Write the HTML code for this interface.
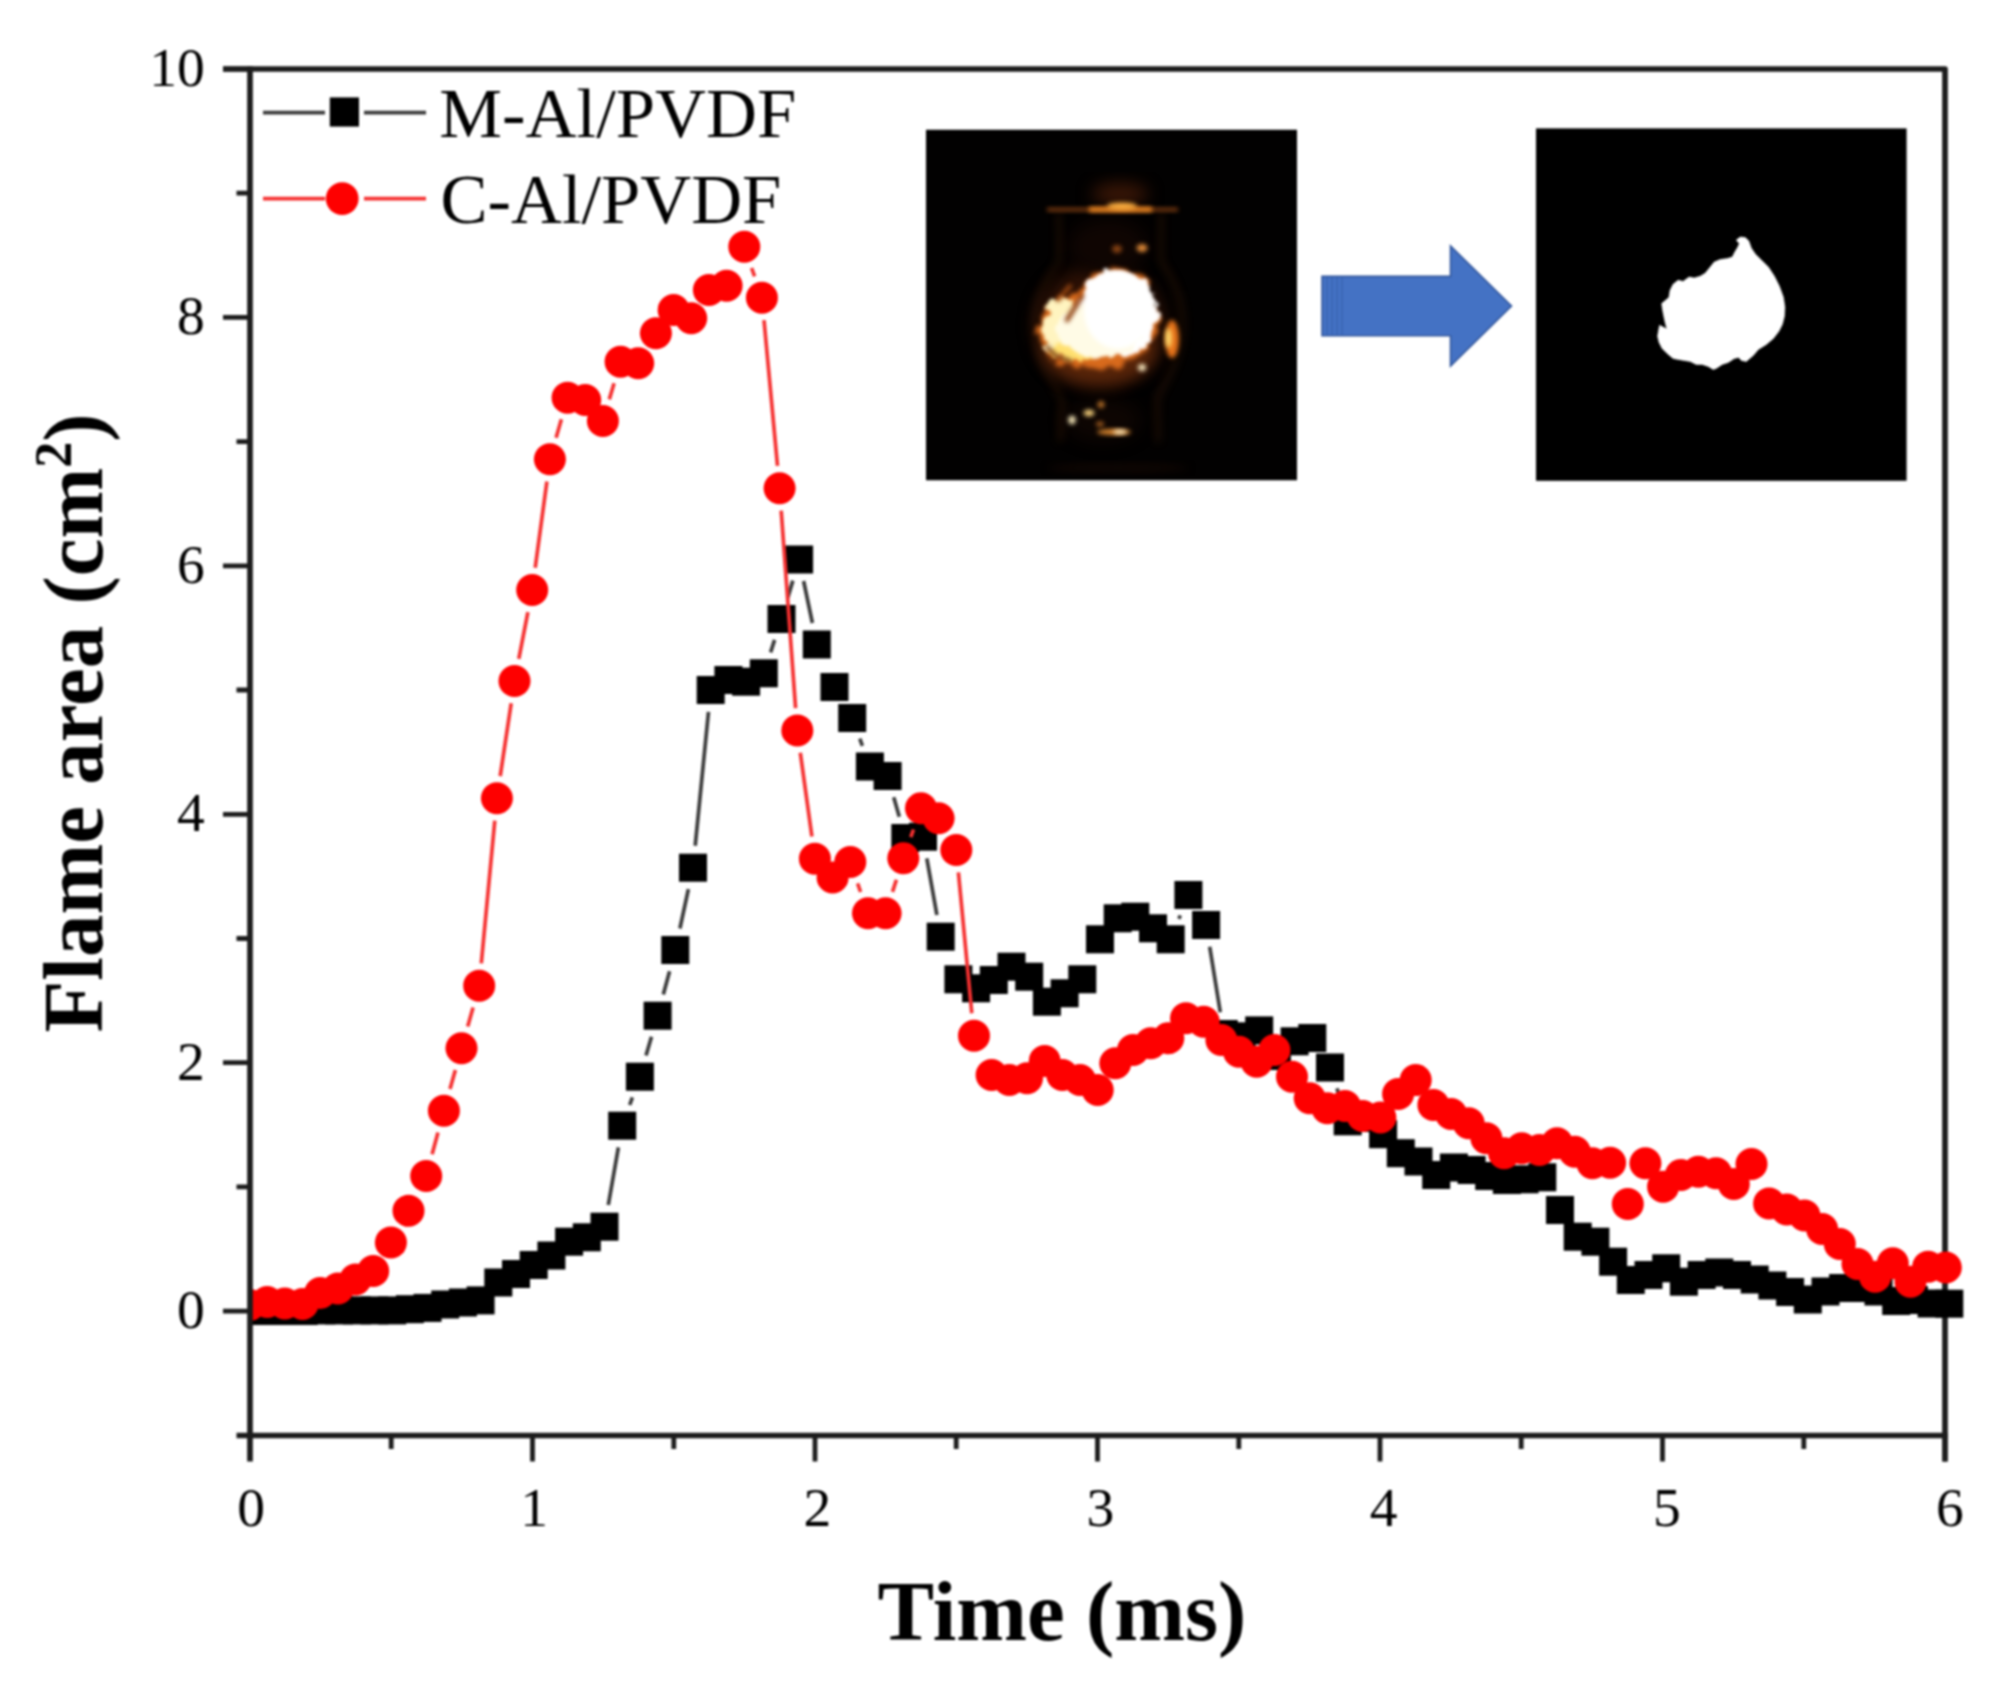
<!DOCTYPE html>
<html lang="en"><head><meta charset="utf-8"><title>Flame area vs time</title>
<style>html,body{margin:0;padding:0;background:#fff}svg{display:block}text{font-family:"Liberation Serif","Times New Roman",serif;fill:#000}</style></head><body>
<svg width="2007" height="1695" viewBox="0 0 2007 1695">
<defs>
<filter id="b2" color-interpolation-filters="sRGB" x="-50%" y="-50%" width="200%" height="200%"><feGaussianBlur stdDeviation="2"/></filter>
<filter id="b4" color-interpolation-filters="sRGB" x="-50%" y="-50%" width="200%" height="200%"><feGaussianBlur stdDeviation="4"/></filter>
<filter id="b8" color-interpolation-filters="sRGB" x="-50%" y="-50%" width="200%" height="200%"><feGaussianBlur stdDeviation="8"/></filter>
<filter id="b14" color-interpolation-filters="sRGB" x="-50%" y="-50%" width="200%" height="200%"><feGaussianBlur stdDeviation="14"/></filter>
<filter id="rag" color-interpolation-filters="sRGB" x="-30%" y="-30%" width="160%" height="160%"><feTurbulence type="fractalNoise" baseFrequency="0.07" numOctaves="2" seed="4" result="n"/><feDisplacementMap in="SourceGraphic" in2="n" scale="22" xChannelSelector="R" yChannelSelector="G"/><feGaussianBlur stdDeviation="2.2"/></filter>
<filter id="rag2" color-interpolation-filters="sRGB" x="-30%" y="-30%" width="160%" height="160%"><feTurbulence type="fractalNoise" baseFrequency="0.09" numOctaves="2" seed="9" result="n"/><feDisplacementMap in="SourceGraphic" in2="n" scale="14" xChannelSelector="R" yChannelSelector="G"/><feGaussianBlur stdDeviation="1.6"/></filter>
<filter id="soft" color-interpolation-filters="sRGB" x="-5%" y="-5%" width="110%" height="110%"><feGaussianBlur stdDeviation="0.9"/></filter>
<radialGradient id="core" cx="0.56" cy="0.44" r="0.62"><stop offset="0" stop-color="#ffffff"/><stop offset="0.55" stop-color="#fffdf0"/><stop offset="0.78" stop-color="#ffe9a0"/><stop offset="0.92" stop-color="#f6a23a"/><stop offset="1" stop-color="#a04a12"/></radialGradient>
<clipPath id="dclip"><rect x="250" y="0" width="1757" height="1695"/></clipPath>
<clipPath id="im1"><rect x="926" y="129.5" width="371" height="351"/></clipPath>
</defs>
<rect width="2007" height="1695" fill="#fff"/>
<g filter="url(#soft)">
<g stroke="#1c1c1c" stroke-width="5.7" stroke-linecap="butt" fill="none">
<path stroke-linejoin="round" d="M223.0 69.0H1945.0V1461.5"/>
</g>
<g clip-path="url(#im1)">
<rect x="926" y="129.5" width="371" height="351" fill="#020101"/>
<ellipse cx="1100" cy="326" rx="66" ry="62" fill="#2b1005" filter="url(#b8)"/>
<ellipse cx="1108" cy="247" rx="40" ry="28" fill="#0f0502" filter="url(#b8)"/>
<ellipse cx="1103" cy="420" rx="38" ry="22" fill="#0d0502" filter="url(#b8)"/>
<ellipse cx="1118" cy="468" rx="70" ry="4" fill="#120703" filter="url(#b4)"/>
<path d="M1059 213V262C1040 285 1030 310 1036 340C1042 372 1058 388 1062 400L1060 442M1161 213V262C1178 285 1186 310 1181 340C1175 372 1160 388 1157 400L1158 442" stroke="#3a1a08" stroke-width="3.5" fill="none" filter="url(#b4)" opacity="0.75"/>
<path d="M1064 443H1156" stroke="#2a1206" stroke-width="3" fill="none" filter="url(#b4)" opacity="0.7"/>
<ellipse cx="1120" cy="194" rx="28" ry="11" fill="#3a1606" filter="url(#b8)"/>
<rect x="1047" y="207.6" width="131" height="4" fill="#7a3a10" filter="url(#b2)"/>
<rect x="1089" y="207" width="63" height="5" fill="#f08a22" filter="url(#b2)"/>
<ellipse cx="1122" cy="206" rx="15" ry="3.5" fill="#ffb040" filter="url(#b2)"/>
<ellipse cx="1099" cy="350" rx="56" ry="34" fill="#5a260a" filter="url(#b8)"/>
<g filter="url(#rag)">
<ellipse cx="1099" cy="327" rx="60" ry="41" fill="#d86a1c" transform="rotate(-10 1099 327)"/>
<ellipse cx="1116" cy="300" rx="38" ry="30" fill="#d86a1c"/>
</g>
<g filter="url(#rag2)">
<ellipse cx="1063" cy="328" rx="21" ry="30" fill="#fff4c0"/>
<ellipse cx="1076" cy="350" rx="26" ry="10" fill="#ffe070"/>
<ellipse cx="1117" cy="313" rx="40" ry="44" fill="#ffffff"/>
<ellipse cx="1100" cy="330" rx="42" ry="28" fill="#fffbe6"/>
</g>
<ellipse cx="1118" cy="311" rx="34" ry="38" fill="#ffffff" filter="url(#b2)"/>
<path d="M1067 320 L1082 296" stroke="#8a3a0a" stroke-width="4.5" stroke-linecap="round" filter="url(#b2)"/>
<path d="M1058 300 L1070 286" stroke="#a04a10" stroke-width="4" stroke-linecap="round" filter="url(#b2)"/>
<path d="M1046 346 L1056 356 L1072 362" stroke="#6a2a08" stroke-width="3.5" fill="none" filter="url(#b2)"/>
<ellipse cx="1172" cy="339" rx="7" ry="19" fill="#e8741a" filter="url(#b2)"/>
<ellipse cx="1168.5" cy="338" rx="3" ry="10" fill="#ffe070" filter="url(#b2)"/>
<ellipse cx="1142" cy="248" rx="5.5" ry="4" fill="#e08a38" filter="url(#b2)"/>
<ellipse cx="1117" cy="249" rx="5" ry="4" fill="#8a4414" filter="url(#b2)"/>
<ellipse cx="1142" cy="367.5" rx="4" ry="3.5" fill="#fff2c8" filter="url(#b2)"/>
<ellipse cx="1072" cy="420" rx="3.6" ry="4.2" fill="#fff0c0" filter="url(#b2)"/>
<ellipse cx="1089" cy="413" rx="5.5" ry="3.2" fill="#ffd880" filter="url(#b2)"/>
<ellipse cx="1101" cy="404.5" rx="3.5" ry="3.5" fill="#b87028" filter="url(#b2)"/>
<ellipse cx="1114" cy="432" rx="17" ry="3" fill="#e08a30" filter="url(#b2)"/>
<ellipse cx="1120" cy="432" rx="7" ry="2.2" fill="#fff0c8" filter="url(#b2)"/>
<ellipse cx="1100" cy="424" rx="4" ry="2.6" fill="#a86020" filter="url(#b2)"/>
</g>
<path d="M1322 276.4H1450.5V246L1511.5 306L1450.5 366V335.8H1322Z" fill="#4472c4" stroke="#33579c" stroke-width="1.6" stroke-linejoin="miter"/>
<path d="M1327 276.4V335.8M1332 276.4V335.8M1337 276.4V335.8M1342 276.4V335.8" stroke="#3560ad" stroke-width="1.1" fill="none"/>
<rect x="1536" y="128.4" width="370.6" height="352.4" fill="#000"/>
<path d="M1736.3 240.1L1740.3 237.1L1745.3 237.6L1748.8 241.1L1751.3 248.1L1755.3 254.1L1761.4 260.1L1768.4 267.1L1774.4 276.2L1779.4 286.2L1783.4 297.2L1784.9 307.3L1784.4 316.3L1782.4 324.3L1778.9 331.3L1773.4 338.4L1766.4 344.4L1758.4 349.4L1753.3 355.4L1746.3 361.4L1741.3 360.4L1738.8 357.4L1734.3 358.4L1728.3 362.4L1722.2 364.4L1716.2 368.4L1713.2 369.4L1708.2 366.4L1702.2 364.4L1696.2 364.4L1690.2 361.4L1684.1 360.4L1678.1 359.4L1673.1 358.4L1667.1 353.4L1662.1 348.4L1659.1 342.4L1657.6 336.3L1658.6 330.3L1659.6 325.3L1666.9 329.1L1665.1 322.3L1663.6 315.3L1662.3 308.3L1661.7 303.5L1668.9 297.4L1670.1 290.2L1673.1 284.2L1678.1 280.2L1683.1 281.4L1686.1 279.2L1689.1 277.0L1694.2 278.0L1700.2 276.2L1705.2 273.2L1710.2 267.1L1714.2 262.1L1720.2 259.6L1727.3 258.6L1732.3 257.1L1734.8 252.1L1737.8 247.1L1739.3 243.6Z" fill="#fff" stroke="#fff" stroke-width="0.6" stroke-linejoin="round"/>
<g clip-path="url(#dclip)">
<path d="M608.3 1205.0L618.4 1147.4M629.7 1105.0L632.4 1097.4M646.0 1055.6L651.5 1036.8M663.3 994.5L669.6 971.2M679.9 928.5L688.4 889.2M695.2 845.8L708.5 711.9M770.6 652.4L774.6 639.9M787.7 597.9L792.9 580.6M803.6 581.0L812.4 623.0M859.8 738.7L862.4 745.8M893.7 797.2L899.3 816.8M926.8 858.4L936.9 915.0M1178.9 918.9L1180.3 915.4M1209.7 946.7L1220.3 1012.3M1336.9 1088.4L1340.8 1100.4" stroke="#3a3a3a" stroke-width="3.70" fill="none"/>
<g fill="#000000">
<rect x="236.6" y="1297.0" width="28.0" height="28.0"/>
<rect x="254.3" y="1297.0" width="28.0" height="28.0"/>
<rect x="272.0" y="1297.0" width="28.0" height="28.0"/>
<rect x="289.7" y="1297.0" width="28.0" height="28.0"/>
<rect x="307.4" y="1296.4" width="28.0" height="28.0"/>
<rect x="325.1" y="1296.4" width="28.0" height="28.0"/>
<rect x="342.8" y="1296.4" width="28.0" height="28.0"/>
<rect x="360.5" y="1296.4" width="28.0" height="28.0"/>
<rect x="378.2" y="1296.4" width="28.0" height="28.0"/>
<rect x="395.9" y="1295.2" width="28.0" height="28.0"/>
<rect x="413.5" y="1293.9" width="28.0" height="28.0"/>
<rect x="431.2" y="1290.5" width="28.0" height="28.0"/>
<rect x="448.9" y="1288.5" width="28.0" height="28.0"/>
<rect x="466.6" y="1286.4" width="28.0" height="28.0"/>
<rect x="484.3" y="1268.5" width="28.0" height="28.0"/>
<rect x="502.0" y="1260.0" width="28.0" height="28.0"/>
<rect x="519.7" y="1251.0" width="28.0" height="28.0"/>
<rect x="537.4" y="1241.5" width="28.0" height="28.0"/>
<rect x="555.1" y="1227.7" width="28.0" height="28.0"/>
<rect x="572.8" y="1223.3" width="28.0" height="28.0"/>
<rect x="590.5" y="1212.7" width="28.0" height="28.0"/>
<rect x="608.2" y="1111.7" width="28.0" height="28.0"/>
<rect x="625.9" y="1062.7" width="28.0" height="28.0"/>
<rect x="643.6" y="1001.7" width="28.0" height="28.0"/>
<rect x="661.3" y="936.0" width="28.0" height="28.0"/>
<rect x="679.0" y="853.7" width="28.0" height="28.0"/>
<rect x="696.7" y="676.0" width="28.0" height="28.0"/>
<rect x="714.4" y="666.0" width="28.0" height="28.0"/>
<rect x="732.1" y="667.7" width="28.0" height="28.0"/>
<rect x="749.8" y="659.3" width="28.0" height="28.0"/>
<rect x="767.5" y="605.0" width="28.0" height="28.0"/>
<rect x="785.1" y="545.5" width="28.0" height="28.0"/>
<rect x="802.8" y="630.5" width="28.0" height="28.0"/>
<rect x="820.5" y="673.0" width="28.0" height="28.0"/>
<rect x="838.2" y="704.0" width="28.0" height="28.0"/>
<rect x="855.9" y="752.5" width="28.0" height="28.0"/>
<rect x="873.6" y="762.0" width="28.0" height="28.0"/>
<rect x="891.3" y="824.0" width="28.0" height="28.0"/>
<rect x="909.0" y="822.7" width="28.0" height="28.0"/>
<rect x="926.7" y="922.7" width="28.0" height="28.0"/>
<rect x="944.4" y="965.3" width="28.0" height="28.0"/>
<rect x="962.1" y="974.3" width="28.0" height="28.0"/>
<rect x="979.8" y="966.0" width="28.0" height="28.0"/>
<rect x="997.5" y="952.7" width="28.0" height="28.0"/>
<rect x="1015.2" y="962.7" width="28.0" height="28.0"/>
<rect x="1032.9" y="987.7" width="28.0" height="28.0"/>
<rect x="1050.6" y="979.3" width="28.0" height="28.0"/>
<rect x="1068.3" y="965.3" width="28.0" height="28.0"/>
<rect x="1086.0" y="925.3" width="28.0" height="28.0"/>
<rect x="1103.7" y="904.3" width="28.0" height="28.0"/>
<rect x="1121.3" y="902.7" width="28.0" height="28.0"/>
<rect x="1139.0" y="914.3" width="28.0" height="28.0"/>
<rect x="1156.7" y="925.3" width="28.0" height="28.0"/>
<rect x="1174.4" y="881.0" width="28.0" height="28.0"/>
<rect x="1192.1" y="911.0" width="28.0" height="28.0"/>
<rect x="1209.8" y="1020.0" width="28.0" height="28.0"/>
<rect x="1227.5" y="1022.3" width="28.0" height="28.0"/>
<rect x="1245.2" y="1016.4" width="28.0" height="28.0"/>
<rect x="1262.9" y="1042.0" width="28.0" height="28.0"/>
<rect x="1280.6" y="1027.3" width="28.0" height="28.0"/>
<rect x="1298.3" y="1024.0" width="28.0" height="28.0"/>
<rect x="1316.0" y="1053.5" width="28.0" height="28.0"/>
<rect x="1333.7" y="1107.3" width="28.0" height="28.0"/>
<rect x="1351.4" y="1104.0" width="28.0" height="28.0"/>
<rect x="1369.1" y="1120.2" width="28.0" height="28.0"/>
<rect x="1386.8" y="1139.2" width="28.0" height="28.0"/>
<rect x="1404.5" y="1147.5" width="28.0" height="28.0"/>
<rect x="1422.2" y="1161.0" width="28.0" height="28.0"/>
<rect x="1439.9" y="1153.5" width="28.0" height="28.0"/>
<rect x="1457.6" y="1156.0" width="28.0" height="28.0"/>
<rect x="1475.2" y="1162.0" width="28.0" height="28.0"/>
<rect x="1492.9" y="1166.0" width="28.0" height="28.0"/>
<rect x="1510.6" y="1165.3" width="28.0" height="28.0"/>
<rect x="1528.3" y="1163.3" width="28.0" height="28.0"/>
<rect x="1546.0" y="1196.0" width="28.0" height="28.0"/>
<rect x="1563.7" y="1222.7" width="28.0" height="28.0"/>
<rect x="1581.4" y="1227.7" width="28.0" height="28.0"/>
<rect x="1599.1" y="1247.7" width="28.0" height="28.0"/>
<rect x="1616.8" y="1266.0" width="28.0" height="28.0"/>
<rect x="1634.5" y="1261.0" width="28.0" height="28.0"/>
<rect x="1652.2" y="1254.3" width="28.0" height="28.0"/>
<rect x="1669.9" y="1267.7" width="28.0" height="28.0"/>
<rect x="1687.6" y="1261.0" width="28.0" height="28.0"/>
<rect x="1705.3" y="1258.5" width="28.0" height="28.0"/>
<rect x="1723.0" y="1261.0" width="28.0" height="28.0"/>
<rect x="1740.7" y="1265.5" width="28.0" height="28.0"/>
<rect x="1758.4" y="1271.5" width="28.0" height="28.0"/>
<rect x="1776.1" y="1278.0" width="28.0" height="28.0"/>
<rect x="1793.8" y="1285.5" width="28.0" height="28.0"/>
<rect x="1811.5" y="1277.5" width="28.0" height="28.0"/>
<rect x="1829.1" y="1274.0" width="28.0" height="28.0"/>
<rect x="1846.8" y="1274.0" width="28.0" height="28.0"/>
<rect x="1864.5" y="1277.5" width="28.0" height="28.0"/>
<rect x="1882.2" y="1287.0" width="28.0" height="28.0"/>
<rect x="1899.9" y="1286.0" width="28.0" height="28.0"/>
<rect x="1917.6" y="1289.5" width="28.0" height="28.0"/>
<rect x="1935.3" y="1289.7" width="28.0" height="28.0"/>
</g>
<path d="M432.1 1154.3L438.0 1132.4M450.0 1089.1L455.4 1069.9M467.7 1026.6L473.1 1007.4M481.3 963.3L494.8 820.7M500.2 776.1L511.2 703.2M518.8 658.9L527.9 612.1M535.2 567.7L546.9 481.6M556.1 437.7L561.4 419.3M609.3 399.4L614.1 383.3M751.6 268.0L754.6 276.4M764.0 320.1L777.5 465.9M781.2 510.7L795.6 708.1M800.3 752.8L811.9 836.5M857.6 883.3L860.6 892.0M892.5 891.9L896.4 879.7M910.8 837.1L913.5 829.5M958.4 872.4L971.8 1013.3" stroke="#f53030" stroke-width="3.70" fill="none"/>
<g fill="#fe0000">
<circle cx="249.5" cy="1305.0" r="16.0"/>
<circle cx="267.2" cy="1302.0" r="16.0"/>
<circle cx="284.8" cy="1303.5" r="16.0"/>
<circle cx="302.5" cy="1304.0" r="16.0"/>
<circle cx="320.2" cy="1293.0" r="16.0"/>
<circle cx="337.9" cy="1288.5" r="16.0"/>
<circle cx="355.5" cy="1279.5" r="16.0"/>
<circle cx="373.2" cy="1271.0" r="16.0"/>
<circle cx="390.9" cy="1242.5" r="16.0"/>
<circle cx="408.5" cy="1210.8" r="16.0"/>
<circle cx="426.2" cy="1176.0" r="16.0"/>
<circle cx="443.9" cy="1110.7" r="16.0"/>
<circle cx="461.5" cy="1048.3" r="16.0"/>
<circle cx="479.2" cy="985.7" r="16.0"/>
<circle cx="496.9" cy="798.3" r="16.0"/>
<circle cx="514.5" cy="681.0" r="16.0"/>
<circle cx="532.2" cy="590.0" r="16.0"/>
<circle cx="549.9" cy="459.3" r="16.0"/>
<circle cx="567.6" cy="397.7" r="16.0"/>
<circle cx="585.2" cy="400.0" r="16.0"/>
<circle cx="602.9" cy="421.0" r="16.0"/>
<circle cx="620.6" cy="361.7" r="16.0"/>
<circle cx="638.2" cy="363.3" r="16.0"/>
<circle cx="655.9" cy="333.3" r="16.0"/>
<circle cx="673.6" cy="310.0" r="16.0"/>
<circle cx="691.2" cy="318.3" r="16.0"/>
<circle cx="708.9" cy="290.0" r="16.0"/>
<circle cx="726.6" cy="285.7" r="16.0"/>
<circle cx="744.3" cy="246.7" r="16.0"/>
<circle cx="761.9" cy="297.7" r="16.0"/>
<circle cx="779.6" cy="488.3" r="16.0"/>
<circle cx="797.3" cy="730.5" r="16.0"/>
<circle cx="814.9" cy="858.8" r="16.0"/>
<circle cx="832.6" cy="877.5" r="16.0"/>
<circle cx="850.3" cy="862.0" r="16.0"/>
<circle cx="868.0" cy="913.3" r="16.0"/>
<circle cx="885.6" cy="913.3" r="16.0"/>
<circle cx="903.3" cy="858.3" r="16.0"/>
<circle cx="921.0" cy="808.3" r="16.0"/>
<circle cx="938.6" cy="818.3" r="16.0"/>
<circle cx="956.3" cy="850.0" r="16.0"/>
<circle cx="974.0" cy="1035.7" r="16.0"/>
<circle cx="991.6" cy="1075.0" r="16.0"/>
<circle cx="1009.3" cy="1080.0" r="16.0"/>
<circle cx="1027.0" cy="1078.3" r="16.0"/>
<circle cx="1044.7" cy="1061.0" r="16.0"/>
<circle cx="1062.3" cy="1075.0" r="16.0"/>
<circle cx="1080.0" cy="1080.0" r="16.0"/>
<circle cx="1097.7" cy="1090.0" r="16.0"/>
<circle cx="1115.3" cy="1063.3" r="16.0"/>
<circle cx="1133.0" cy="1050.0" r="16.0"/>
<circle cx="1150.7" cy="1043.3" r="16.0"/>
<circle cx="1168.3" cy="1038.3" r="16.0"/>
<circle cx="1186.0" cy="1018.3" r="16.0"/>
<circle cx="1203.7" cy="1021.7" r="16.0"/>
<circle cx="1221.4" cy="1040.0" r="16.0"/>
<circle cx="1239.0" cy="1051.7" r="16.0"/>
<circle cx="1256.7" cy="1061.7" r="16.0"/>
<circle cx="1274.4" cy="1050.0" r="16.0"/>
<circle cx="1292.0" cy="1076.7" r="16.0"/>
<circle cx="1309.7" cy="1098.3" r="16.0"/>
<circle cx="1327.4" cy="1108.3" r="16.0"/>
<circle cx="1345.0" cy="1106.0" r="16.0"/>
<circle cx="1362.7" cy="1116.0" r="16.0"/>
<circle cx="1380.4" cy="1117.5" r="16.0"/>
<circle cx="1398.1" cy="1094.0" r="16.0"/>
<circle cx="1415.7" cy="1080.0" r="16.0"/>
<circle cx="1433.4" cy="1105.0" r="16.0"/>
<circle cx="1451.1" cy="1114.0" r="16.0"/>
<circle cx="1468.7" cy="1123.3" r="16.0"/>
<circle cx="1486.4" cy="1138.3" r="16.0"/>
<circle cx="1504.1" cy="1153.3" r="16.0"/>
<circle cx="1521.7" cy="1148.3" r="16.0"/>
<circle cx="1539.4" cy="1150.0" r="16.0"/>
<circle cx="1557.1" cy="1143.3" r="16.0"/>
<circle cx="1574.8" cy="1151.7" r="16.0"/>
<circle cx="1592.4" cy="1163.3" r="16.0"/>
<circle cx="1610.1" cy="1162.7" r="16.0"/>
<circle cx="1627.8" cy="1204.0" r="16.0"/>
<circle cx="1645.4" cy="1163.3" r="16.0"/>
<circle cx="1663.1" cy="1186.7" r="16.0"/>
<circle cx="1680.8" cy="1175.0" r="16.0"/>
<circle cx="1698.4" cy="1171.7" r="16.0"/>
<circle cx="1716.1" cy="1173.3" r="16.0"/>
<circle cx="1733.8" cy="1184.0" r="16.0"/>
<circle cx="1751.5" cy="1164.0" r="16.0"/>
<circle cx="1769.1" cy="1203.5" r="16.0"/>
<circle cx="1786.8" cy="1209.5" r="16.0"/>
<circle cx="1804.5" cy="1215.5" r="16.0"/>
<circle cx="1822.1" cy="1229.0" r="16.0"/>
<circle cx="1839.8" cy="1244.0" r="16.0"/>
<circle cx="1857.5" cy="1264.0" r="16.0"/>
<circle cx="1875.1" cy="1276.7" r="16.0"/>
<circle cx="1892.8" cy="1263.3" r="16.0"/>
<circle cx="1910.5" cy="1281.7" r="16.0"/>
<circle cx="1928.2" cy="1266.7" r="16.0"/>
<circle cx="1945.8" cy="1267.5" r="16.0"/>
</g>
</g>
<path d="M263 112.6H325M364 112.6H426" stroke="#3a3a3a" stroke-width="3.70"/>
<rect x="329.8" y="97.4" width="29.2" height="29.2" fill="#000"/>
<path d="M263 198.6H325M364 198.6H426" stroke="#f53030" stroke-width="3.70"/>
<circle cx="342.2" cy="198.6" r="16.4" fill="#fe0000"/>
<text x="439.3" y="136.7" font-size="70.5" textLength="357" lengthAdjust="spacingAndGlyphs">M-Al/PVDF</text>
<text x="440.5" y="222.8" font-size="70.5">C-Al/PVDF</text>
<g stroke="#1c1c1c" stroke-linecap="butt" fill="none">
<path stroke-width="5.7" d="M250.0 66.2V1461.5"/>
<path stroke-width="5.7" d="M236.5 1435.5H1947.8"/>
<path stroke-width="4.8" d="M391.2 1435.5V1449.0M532.5 1435.5V1461.5M673.8 1435.5V1449.0M815.0 1435.5V1461.5M956.2 1435.5V1449.0M1097.5 1435.5V1461.5M1238.8 1435.5V1449.0M1380.0 1435.5V1461.5M1521.2 1435.5V1449.0M1662.5 1435.5V1461.5M1803.8 1435.5V1449.0M1945.0 1435.5V1461.5M250.0 1311.1H223.0M250.0 1186.9H236.5M250.0 1062.7H223.0M250.0 938.5H236.5M250.0 814.3H223.0M250.0 690.0H236.5M250.0 565.8H223.0M250.0 441.6H236.5M250.0 317.4H223.0M250.0 193.2H236.5M250.0 69.0H223.0"/>
</g>
<g font-size="55.5">
<text x="251.0" y="1526.4" text-anchor="middle">0</text>
<text x="534.1" y="1526.4" text-anchor="middle">1</text>
<text x="817.3" y="1526.4" text-anchor="middle">2</text>
<text x="1100.4" y="1526.4" text-anchor="middle">3</text>
<text x="1383.6" y="1526.4" text-anchor="middle">4</text>
<text x="1666.8" y="1526.4" text-anchor="middle">5</text>
<text x="1949.9" y="1526.4" text-anchor="middle">6</text>
<text x="204.8" y="1327.9" text-anchor="end">0</text>
<text x="204.8" y="1079.5" text-anchor="end">2</text>
<text x="204.8" y="831.1" text-anchor="end">4</text>
<text x="204.8" y="582.6" text-anchor="end">6</text>
<text x="204.8" y="334.2" text-anchor="end">8</text>
<text x="204.8" y="85.8" text-anchor="end">10</text>
</g>
<text x="877.6" y="1640" font-size="85.5" font-weight="bold" textLength="368.6" lengthAdjust="spacingAndGlyphs">Time (ms)</text>
<text transform="translate(102 723) rotate(-90)" text-anchor="middle" font-size="85" font-weight="bold">Flame area (cm<tspan font-size="52" dy="-31">2</tspan><tspan dy="31">)</tspan></text>
</g>
</svg></body></html>
